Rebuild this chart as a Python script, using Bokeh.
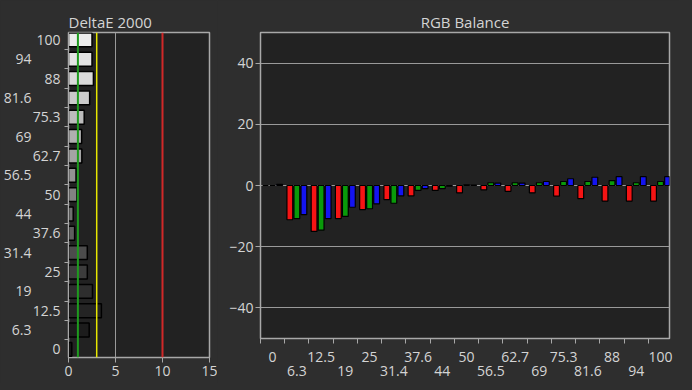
from bokeh.plotting import figure
from bokeh.models import ColumnDataSource, Range1d, FixedTicker, LinearAxis, Span
from bokeh.layouts import row
from bokeh.transform import dodge
from bokeh.embed import file_html
from bokeh.resources import INLINE

# ---- data ----
levels = ["0", "6.3", "12.5", "19", "25", "31.4", "37.6", "44", "50",
          "56.5", "62.7", "69", "75.3", "81.6", "88", "94", "100"]
delta_e = [0.35, 2.2, 3.5, 2.55, 2.0, 2.0, 0.65, 0.5, 0.9,
           0.8, 1.42, 1.4, 1.67, 2.25, 2.65, 2.5, 2.5]
red = [0.0, -11.2, -15.0, -10.8, -7.9, -4.6, -3.4, -1.6, -2.4,
       -1.4, -1.9, -2.4, -3.5, -4.3, -5.1, -5.1, -5.1]
green = [0.0, -10.8, -14.6, -10.1, -7.6, -5.8, -1.6, -1.0, 0.2,
         0.9, 0.9, 0.9, 1.3, 1.3, 1.6, 0.9, 1.3]
blue = [0.4, -9.5, -10.8, -7.1, -6.0, -3.4, -1.0, -0.2, 0.1,
        0.8, 0.8, 1.3, 2.2, 2.7, 2.9, 2.9, 2.9]
gray_fill = ["#151515", "#1c1c1c", "#242424", "#2e2e2e", "#3c3c3c", "#4c4c4c",
             "#5e5e5e", "#707070", "#828282", "#939393", "#a4a4a4", "#b0b0b0",
             "#bcbcbc", "#cacaca", "#dadada", "#e4e4e4", "#ececec"]
de_ticks = [0, 5, 10, 15]
rgb_ticks = [-40, -20, 0, 20, 40]

# ---- style ----
BG = "#2e2e2e"
FRAME = "#222222"
AXIS = "#a8a8a8"
TXT = "#d4d4d4"
FONT = "Open Sans"
LBL = "14px"

idx = list(range(len(levels)))
even = idx[0::2]
odd = idx[1::2]
bounds = [i - 0.5 for i in idx] + [len(idx) - 0.5]
overrides = {i: levels[i] for i in idx}

src = ColumnDataSource(dict(idx=idx, delta=delta_e, red=red, green=green,
                            blue=blue, shade=gray_fill))


def style_axis(ax, tick_out=5, standoff=3):
    ax.axis_line_color = AXIS
    ax.major_tick_line_color = AXIS
    ax.minor_tick_line_color = AXIS
    ax.major_tick_out = tick_out
    ax.major_tick_in = 0
    ax.minor_tick_in = 0
    ax.major_label_text_color = TXT
    ax.major_label_text_font = FONT
    ax.major_label_text_font_size = LBL
    ax.major_label_standoff = standoff


def style_fig(p):
    p.background_fill_color = FRAME
    p.border_fill_color = BG
    p.outline_line_color = AXIS
    p.outline_line_width = 1.5
    p.title.text_font = FONT
    p.title.text_font_size = "15px"
    p.title.text_font_style = "normal"
    p.title.text_color = TXT
    p.title.standoff = 2


# ---- DeltaE panel ----
p1 = figure(frame_width=141, frame_height=325,
            x_range=Range1d(0, 15), y_range=Range1d(-0.42, 16.38),
            y_axis_type=None, title="DeltaE 2000",
            output_backend="svg", toolbar_location=None,
            min_border_left=63, min_border_right=8,
            min_border_top=32, min_border_bottom=26)
style_fig(p1)
p1.title.align = "left"

p1.hbar(y="idx", left=0, right="delta", height=0.72, source=src,
        fill_color="shade", line_color="#000000", line_width=1.5)

p1.xaxis.ticker = FixedTicker(ticks=de_ticks)
style_axis(p1.xaxis[0], tick_out=5, standoff=3)
p1.xaxis.minor_tick_line_color = None

ax_in = LinearAxis(ticker=FixedTicker(ticks=even, minor_ticks=bounds),
                   major_label_overrides=overrides)
style_axis(ax_in, tick_out=0, standoff=4)
ax_in.minor_tick_out = 4
p1.add_layout(ax_in, "left")
ax_out = LinearAxis(ticker=FixedTicker(ticks=odd, minor_ticks=[]),
                    major_label_overrides=overrides)
style_axis(ax_out, tick_out=0, standoff=-2)
ax_out.axis_line_color = None
ax_out.major_tick_line_color = None
ax_out.minor_tick_line_color = None
p1.add_layout(ax_out, "left")

p1.xgrid.ticker = FixedTicker(ticks=[5])
p1.xgrid.grid_line_color = "#9a9a9a"
p1.ygrid.visible = False

for loc, col, w in [(1, "#1e9a1e", 2), (3, "#e6e600", 1.5), (10, "#d02828", 2)]:
    p1.add_layout(Span(location=loc, dimension="height", line_color=col, line_width=w))

# ---- RGB Balance panel ----
p2 = figure(frame_width=409, frame_height=306,
            x_range=Range1d(-0.5, 16.37), y_range=Range1d(-50, 50),
            x_axis_type=None, title="RGB Balance",
            output_backend="svg", toolbar_location=None,
            min_border_left=43, min_border_right=10,
            min_border_top=32, min_border_bottom=45)
style_fig(p2)
p2.title.align = "center"
p2.title.offset = -13

p2.ygrid.ticker = FixedTicker(ticks=rgb_ticks)
p2.ygrid.grid_line_color = "#9a9a9a"
p2.xgrid.visible = False

p2.yaxis.ticker = FixedTicker(ticks=rgb_ticks)
style_axis(p2.yaxis[0], tick_out=5, standoff=2)
p2.yaxis.minor_tick_line_color = None

W = 0.24
for col, fc, off in [("red", "#f51414", -0.29), ("green", "#0a9a0a", 0.0), ("blue", "#1414f0", 0.29)]:
    p2.vbar(x=dodge("idx", off), bottom=0, top=col, width=W, source=src,
            fill_color=fc, line_color="#000000", line_width=1.2)

bx_in = LinearAxis(ticker=FixedTicker(ticks=even, minor_ticks=bounds),
                   major_label_overrides=overrides)
style_axis(bx_in, tick_out=0, standoff=8)
bx_in.minor_tick_out = 5
p2.add_layout(bx_in, "below")
bx_out = LinearAxis(ticker=FixedTicker(ticks=odd, minor_ticks=[]),
                    major_label_overrides=overrides)
style_axis(bx_out, tick_out=0, standoff=1)
bx_out.axis_line_color = None
bx_out.major_tick_line_color = None
bx_out.minor_tick_line_color = None
p2.add_layout(bx_out, "below")

layout = row(p1, p2)
layout.spacing = 0

html = file_html(layout, INLINE, title="DeltaE 2000 / RGB Balance")
html = html.replace("</head>", "<style>html,body{background:#2e2e2e;}</style></head>", 1)
open("out.html", "w").write(html)
